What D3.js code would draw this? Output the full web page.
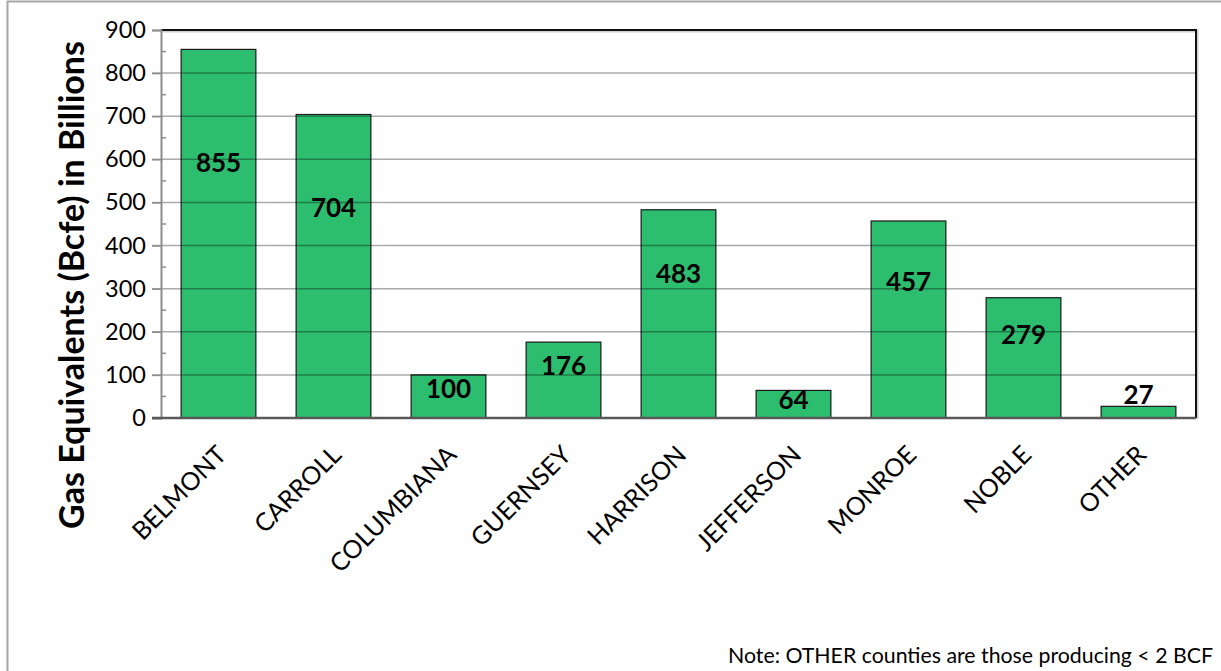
<!DOCTYPE html>
<html>
<head>
<meta charset="utf-8">
<script src="https://cdn.jsdelivr.net/npm/d3@7"></script>
<style>
  html, body { margin: 0; padding: 0; background: #fff; }
  svg { display: block; }
</style>
</head>
<body>
<svg id="chart" width="1221" height="671"></svg>
<script>
// Counties and cumulative gas-equivalent production (Bcfe)
const counties = ["BELMONT", "CARROLL", "COLUMBIANA", "GUERNSEY", "HARRISON", "JEFFERSON", "MONROE", "NOBLE", "OTHER"];
const production = [855, 704, 100, 176, 483, 64, 457, 279, 27];
const yTicks = [0, 100, 200, 300, 400, 500, 600, 700, 800, 900];
const yTitle = "Gas Equivalents (Bcfe) in Billions";
const note = "Note: OTHER counties are those producing < 2 BCF";

const data = counties.map((c, i) => ({ county: c, value: production[i] }));
const font = "Lato, 'Open Sans', sans-serif";

const svg = d3.select("#chart");
const W = 1221, H = 671;
const plot = { left: 161, right: 1196, top: 30, bottom: 418 };

// outer chart frame
svg.append("rect")
  .attr("x", 7.5).attr("y", 1.5)
  .attr("width", W + 10).attr("height", H + 10)
  .attr("fill", "#fff").attr("stroke", "#a6a6a6").attr("stroke-width", 2);

const x = d3.scaleBand()
  .domain(counties)
  .range([plot.left, plot.right])
  .paddingInner(0.35)
  .paddingOuter(0.175);

const y = d3.scaleLinear()
  .domain([0, 900])
  .range([plot.bottom, plot.top]);

// plot area border (top and right)
svg.append("path")
  .attr("d", `M${plot.left},${plot.top}H${plot.right}V${plot.bottom}`)
  .attr("fill", "none").attr("stroke", "#d0d0d0").attr("stroke-width", 3)
  .attr("transform", "translate(1,1)");
svg.append("path")
  .attr("d", `M${plot.left},${plot.top}H${plot.right}V${plot.bottom}`)
  .attr("fill", "none").attr("stroke", "#111").attr("stroke-width", 2);

// bars
svg.append("g").selectAll("rect")
  .data(data)
  .join("rect")
  .attr("x", d => x(d.county))
  .attr("y", d => y(d.value))
  .attr("width", x.bandwidth())
  .attr("height", d => y(0) - y(d.value))
  .attr("fill", "#2dbd6e")
  .attr("stroke", "#1a1a1a")
  .attr("stroke-width", 1.2);

// horizontal gridlines, drawn over the bars
svg.append("g").selectAll("line")
  .data(yTicks.filter(t => t > 0 && t < 900))
  .join("line")
  .attr("x1", plot.left - 9).attr("x2", plot.right)
  .attr("y1", d => y(d)).attr("y2", d => y(d))
  .attr("stroke", "#000").attr("stroke-opacity", 0.33).attr("stroke-width", 1.5);

// left axis with outside major ticks and inside minor ticks
const yAxis = d3.axisLeft(y).tickValues(yTicks).tickSize(9).tickPadding(6).tickFormat(d3.format("d"));
const gy = svg.append("g")
  .attr("transform", `translate(${plot.left},0)`)
  .call(yAxis);
gy.select(".domain").attr("stroke", "#8c8c8c").attr("stroke-width", 2);
gy.selectAll(".tick line").attr("stroke", "#8c8c8c").attr("stroke-width", 1.5);
gy.selectAll(".tick text")
  .attr("font-family", font).attr("font-size", 23.5).attr("fill", "#000");

const minorTicks = d3.range(50, 900, 100);
svg.append("g").selectAll("line")
  .data(minorTicks)
  .join("line")
  .attr("x1", plot.left).attr("x2", plot.left + 5)
  .attr("y1", d => y(d)).attr("y2", d => y(d))
  .attr("stroke", "#8c8c8c").attr("stroke-width", 1.5);

// baseline
svg.append("line")
  .attr("x1", plot.left - 9).attr("x2", plot.right)
  .attr("y1", y(0)).attr("y2", y(0))
  .attr("stroke", "#595959").attr("stroke-width", 2.5);

// category labels, rotated
svg.append("g").selectAll("text")
  .data(data)
  .join("text")
  .attr("transform", d => `translate(${x(d.county) + x.bandwidth() / 2 - 3},${y(0) + 26}) rotate(-45)`)
  .attr("text-anchor", "end")
  .attr("dy", "0.7em")
  .attr("font-family", font).attr("font-size", 25)
  .attr("fill", "#000")
  .text(d => d.county);

// value labels: inside the bar for most, above the bar when it is too short
svg.append("g").selectAll("text")
  .data(data)
  .join("text")
  .attr("x", d => x(d.county) + x.bandwidth() / 2)
  .attr("y", d => d.value < 40 ? y(d.value) - 12 : Math.min(y(d.value * 0.695), y(0) - 18))
  .attr("text-anchor", "middle")
  .attr("dominant-baseline", "central")
  .attr("font-family", font).attr("font-weight", "bold").attr("font-size", 26)
  .attr("fill", "#000")
  .text(d => d.value);

// y-axis title
svg.append("text")
  .attr("transform", `translate(70,${285}) rotate(-90)`)
  .attr("text-anchor", "middle")
  .attr("dominant-baseline", "central")
  .attr("font-family", font).attr("font-weight", "bold").attr("font-size", 34)
  .attr("fill", "#000")
  .text(yTitle);

// footnote
svg.append("text")
  .attr("x", 1213).attr("y", 663)
  .attr("text-anchor", "end")
  .attr("font-family", font).attr("font-size", 21.3)
  .attr("fill", "#000")
  .text(note);
</script>
</body>
</html>
